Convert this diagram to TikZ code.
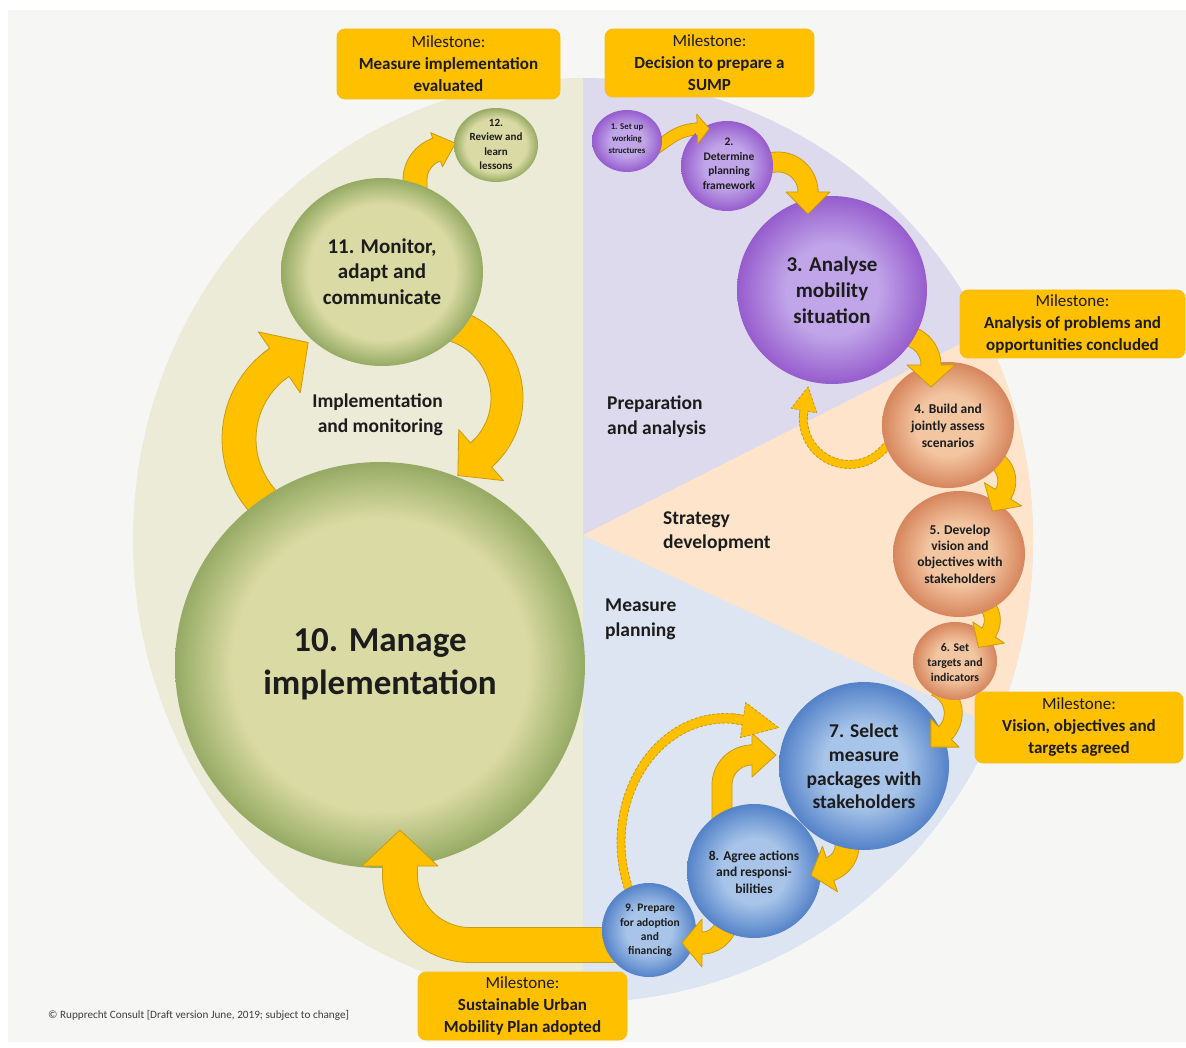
\documentclass[tikz,border=0pt]{standalone}
\usepackage{fontspec}
\setmainfont{Carlito}
\usetikzlibrary{shapes.geometric}
\definecolor{pagebg}{RGB}{246,246,245}
\definecolor{bgG}{RGB}{236,235,216}
\definecolor{bgP}{RGB}{222,218,238}
\definecolor{bgO}{RGB}{253,228,203}
\definecolor{bgB}{RGB}{221,229,243}
\definecolor{gold}{RGB}{255,192,0}
\definecolor{goldline}{RGB}{200,155,20}
\definecolor{goldedge}{RGB}{245,190,30}
\definecolor{txt}{RGB}{28,28,28}
\definecolor{pin}{RGB}{192,166,232}
\definecolor{pout}{RGB}{150,92,205}
\definecolor{oin}{RGB}{243,198,162}
\definecolor{oout}{RGB}{214,133,92}
\definecolor{bin}{RGB}{168,197,233}
\definecolor{bout}{RGB}{84,130,200}
\definecolor{gin}{RGB}{218,219,164}
\definecolor{gout}{RGB}{150,170,100}
\pgfdeclareradialshading{ballP}{\pgfpoint{0bp}{0bp}}{color(0bp)=(pin); color(12bp)=(pin); color(25bp)=(pout); color(50bp)=(pout)}
\pgfdeclareradialshading{ballO}{\pgfpoint{0bp}{0bp}}{color(0bp)=(oin); color(12bp)=(oin); color(25bp)=(oout); color(50bp)=(oout)}
\pgfdeclareradialshading{ballB}{\pgfpoint{0bp}{0bp}}{color(0bp)=(bin); color(12bp)=(bin); color(25bp)=(bout); color(50bp)=(bout)}
\pgfdeclareradialshading{ballG}{\pgfpoint{0bp}{0bp}}{color(0bp)=(gin); color(18bp)=(gin); color(25bp)=(gout); color(50bp)=(gout)}
\newcommand\fs[2]{\fontsize{#1}{#2}\selectfont\bfseries}
\tikzset{
  astyle/.style={},
  abodyst/.style={fill=gold, draw=goldline, line width=0.8pt, line join=round},
  aline/.style={draw=goldline, line width=0.8pt, line join=round},
  ctext/.style={align=center, text=txt, inner sep=0pt},
  seclab/.style={text=txt, inner sep=0pt, font={\fs{19.5}{25}}},
  mile/.style={rectangle, rounded corners=8pt, fill=gold, draw=goldedge, line width=0.8pt,
    text=txt, align=center, inner sep=0pt, font={\fontsize{17}{22}\selectfont}},
}
% arc arrow: cx cy R a1 a2 halfwidth headhalfwidth headlength tailextension
\newcommand{\abody}[9]{%
  \pgfmathsetmacro\as{((#5)>(#4))*2-1}%
  \pgfmathsetmacro\ro{(#3)+(#6)}%
  \pgfmathsetmacro\ri{(#3)-(#6)}%
  \pgfmathsetmacro\tox{#1+\ro*cos(#4)+(\as)*(#9)*sin(#4)}%
  \pgfmathsetmacro\toy{#2+\ro*sin(#4)-(\as)*(#9)*cos(#4)}%
  \pgfmathsetmacro\tix{#1+\ri*cos(#4)+(\as)*(#9)*sin(#4)}%
  \pgfmathsetmacro\tiy{#2+\ri*sin(#4)-(\as)*(#9)*cos(#4)}%
  \path[abodyst,astyle] (\tox,\toy) -- plot[domain=#4:#5,samples=30] ({#1+\ro*cos(\x)},{#2+\ro*sin(\x)})
    -- plot[domain=#5:#4,samples=30] ({#1+\ri*cos(\x)},{#2+\ri*sin(\x)}) -- (\tix,\tiy) -- cycle;
}
\newcommand{\ahead}[9]{%
  \pgfmathsetmacro\as{((#5)>(#4))*2-1}%
  \pgfmathsetmacro\ro{(#3)+(#6)}%
  \pgfmathsetmacro\ri{(#3)-(#6)}%
  \pgfmathsetmacro\hro{(#3)+(#7)}%
  \pgfmathsetmacro\hri{(#3)-(#7)}%
  \pgfmathsetmacro\ab{(#5)-0.05*((#5)-(#4))}%
  \pgfmathsetmacro\tx{#1+(#3)*cos(#5)-(\as)*(#8)*sin(#5)}%
  \pgfmathsetmacro\ty{#2+(#3)*sin(#5)+(\as)*(#8)*cos(#5)}%
  \coordinate (p1) at ({#1+\ro*cos(\ab)},{#2+\ro*sin(\ab)});
  \coordinate (p2) at ({#1+\ro*cos(#5)},{#2+\ro*sin(#5)});
  \coordinate (p3) at ({#1+\hro*cos(#5)},{#2+\hro*sin(#5)});
  \coordinate (p4) at (\tx,\ty);
  \coordinate (p5) at ({#1+\hri*cos(#5)},{#2+\hri*sin(#5)});
  \coordinate (p6) at ({#1+\ri*cos(#5)},{#2+\ri*sin(#5)});
  \coordinate (p7) at ({#1+\ri*cos(\ab)},{#2+\ri*sin(\ab)});
  \fill[gold] (p1)--(p2)--(p3)--(p4)--(p5)--(p6)--(p7)--cycle;
  \draw[aline,astyle] (p1)--(p2)--(p3)--(p4)--(p5)--(p6)--(p7);
}
\newcommand{\allarrows}[1]{%
  #1{699}{179}{50}{235}{268}{6}{15}{12}{20}% A 1->2
  #1{778}{192}{30}{265}{360}{10}{22}{22}{8}% B 2->3
  #1{901}{365}{30}{270}{360}{10}{24}{22}{0}% C 3->4
  #1{981.8}{481}{25}{-60}{32}{9}{22}{20}{0}% E 4->5
  #1{970.3}{620.2}{22}{-60}{34}{8}{19}{18}{0}% F 5->6
  #1{925.2}{713.2}{28}{-70}{45}{9}{20}{20}{0}% G 6->7
  #1{822.1}{845.3}{25}{-20}{71.6}{12}{24}{20}{0}% H 7->8
  #1{702}{918}{25}{10}{90}{11}{24}{20}{0}% I 8->9
  #1{752}{785}{30}{180}{270}{10}{22}{24}{45}% J 8->7
  #1{332}{439}{93}{138}{235.5}{17}{37}{35}{3}% M 10->11
  #1{431}{398}{76}{-75}{48.7}{16}{34}{31}{0}% N 11->10
  #1{447}{180}{32}{180}{251}{12}{18}{20}{12}% O 11->12
  \begin{scope}[astyle/.style={dash pattern=on 3pt off 1.5pt}]
    #1{849.3}{418.5}{46}{45}{190}{4}{13}{24}{8}% D 4->3 dashed
    \begin{scope}[shift={(725,842)},yscale=1.19]
      #1{0}{0}{104}{160}{280}{4}{15}{36}{10}% K 9->7 dashed
    \end{scope}
  \end{scope}
}
\begin{document}
\begin{tikzpicture}[x=1pt,y=-1pt]
\useasboundingbox (0,0) rectangle (1186,1048);
\fill[white] (0,0) rectangle (1186,1048);
\fill[pagebg] (8,10) rectangle (1186,1042);
% sectors
\begin{scope}
  \clip (583,540) ellipse [x radius=450pt, y radius=462pt];
  \fill[bgG] (0,0) rectangle (583,1048);
  \fill[bgP] (583,0) rectangle (1300,1048);
  \fill[bgB] (583,535) -- ({583+800*cos(24.9)},{535+800*sin(24.9)}) -- (1300,1300) -- (583,1300) -- cycle;
  \fill[bgO] (583,535) -- ({583+800*cos(-26.85)},{535+800*sin(-26.85)}) -- ({583+800*cos(24.9)},{535+800*sin(24.9)}) -- cycle;
\end{scope}
% arrow bodies
\allarrows\abody
\path[abodyst] (615,927.5) -- (470,927.5)
  -- plot[domain=90:180,samples=25] ({470+52.5*cos(\x)},{875+52.5*sin(\x)})
  -- (417.5,866) -- (382.5,866)
  -- plot[domain=180:90,samples=25] ({470+87.5*cos(\x)},{875+87.5*sin(\x)})
  -- (615,962.5) -- cycle;
% circles
\path[shade,shading=ballP] (627,141) ellipse [x radius=35pt, y radius=31pt];
\path[shade,shading=ballP] (727,166) ellipse [x radius=46pt, y radius=45pt];
\path[shade,shading=ballP] (832,290) ellipse [x radius=95pt, y radius=94pt];
\path[shade,shading=ballO] (948,425) ellipse [x radius=66pt, y radius=63pt];
\path[shade,shading=ballO] (959,554) ellipse [x radius=66pt, y radius=63pt];
\path[shade,shading=ballO] (955,661) ellipse [x radius=42pt, y radius=39pt];
\path[shade,shading=ballB] (864,766) ellipse [x radius=85pt, y radius=84pt];
\path[shade,shading=ballB] (754,871) ellipse [x radius=67pt, y radius=67pt];
\path[shade,shading=ballB] (649,930) ellipse [x radius=47pt, y radius=47pt];
\path[shade,shading=ballG] (380,665) ellipse [x radius=205pt, y radius=203pt];
\path[shade,shading=ballG] (382,272) ellipse [x radius=101pt, y radius=94pt];
\path[shade,shading=ballG] (496,145) ellipse [x radius=42pt, y radius=37pt];
% arrow heads
\allarrows\ahead
\fill[gold] (417.5,873) -- (417.5,866) -- (438,866) -- (400,830) -- (362,866) -- (382.5,866) -- (382.5,873) -- cycle;
\draw[aline] (417.5,873) -- (417.5,866) -- (438,866) -- (400,830) -- (362,866) -- (382.5,866) -- (382.5,873);
% circle texts
\node[ctext,font={\fs{8.8}{12}}] (c1) at (627,139) {1. Set up\\working\\structures};
\node[ctext,font={\fs{11.5}{14.5}}] (c2) at (729,164) {2.\\Determine\\planning\\framework};
\node[ctext,font={\fs{21}{26}}] (c3) at (832,290) {3. Analyse\\mobility\\situation};
\node[ctext,font={\fs{13.5}{16.8}}] (c4) at (948,426) {4. Build and\\jointly assess\\scenarios};
\node[ctext,font={\fs{13.5}{16.4}}] (c5) at (960,554) {5. Develop\\vision and\\objectives with\\stakeholders};
\node[ctext,font={\fs{11.8}{15}}] (c6) at (955,663) {6. Set\\targets and\\indicators};
\node[ctext,font={\fs{19.5}{23.8}}] (c7) at (864,766.5) {7. Select\\measure\\packages with\\stakeholders};
\node[ctext,font={\fs{13.5}{16.7}}] (c8) at (754,872) {8. Agree actions\\and responsi-\\bilities};
\node[ctext,font={\fs{11.5}{14.4}}] (c9) at (650,930.5) {9. Prepare\\for adoption\\and\\financing};
\node[ctext,font={\fs{35}{43}}] (c10) at (380,664.5) {10. Manage\\implementation};
\node[ctext,font={\fs{21}{25.5}}] (c11) at (382,271.5) {11. Monitor,\\adapt and\\communicate};
\node[ctext,font={\fs{11}{14.5}}] (c12) at (496,144.5) {12.\\Review and\\learn\\lessons};
% section labels
\node[seclab,align=right,anchor=east] (s1) at (443,414.5) {Implementation\\and monitoring};
\node[seclab,align=left,anchor=west] (s2) at (607,416.5) {Preparation\\and analysis};
\node[seclab,align=left,anchor=west,font={\fs{19.5}{24}}] (s3) at (663,531.5) {Strategy\\development};
\node[seclab,align=left,anchor=west] (s4) at (605,619.5) {Measure\\planning};
% milestones
\node[mile,minimum width=223pt,minimum height=70pt] (m1) at (448.5,64) {Milestone:\\\textbf{Measure implementation}\\\textbf{evaluated}};
\node[mile,minimum width=209pt,minimum height=68pt] (m2) at (709.5,63) {Milestone:\\\textbf{Decision to prepare a}\\\textbf{SUMP}};
\node[mile,minimum width=225pt,minimum height=68pt] (m3) at (1072.5,324) {Milestone:\\\textbf{Analysis of problems and}\\\textbf{opportunities concluded}};
\node[mile,minimum width=208pt,minimum height=71pt] (m4) at (1079,727.5) {Milestone:\\\textbf{Vision, objectives and}\\\textbf{targets agreed}};
\node[mile,minimum width=209pt,minimum height=68pt] (m5) at (522.5,1006) {Milestone:\\\textbf{Sustainable Urban}\\\textbf{Mobility Plan adopted}};
% copyright
\node[anchor=west,text=txt!85,inner sep=0pt,font={\fontsize{11.2}{13}\selectfont}] (copy) at (48,1015) {© Rupprecht Consult [Draft version June, 2019; subject to change]};
\end{tikzpicture}
\end{document}
